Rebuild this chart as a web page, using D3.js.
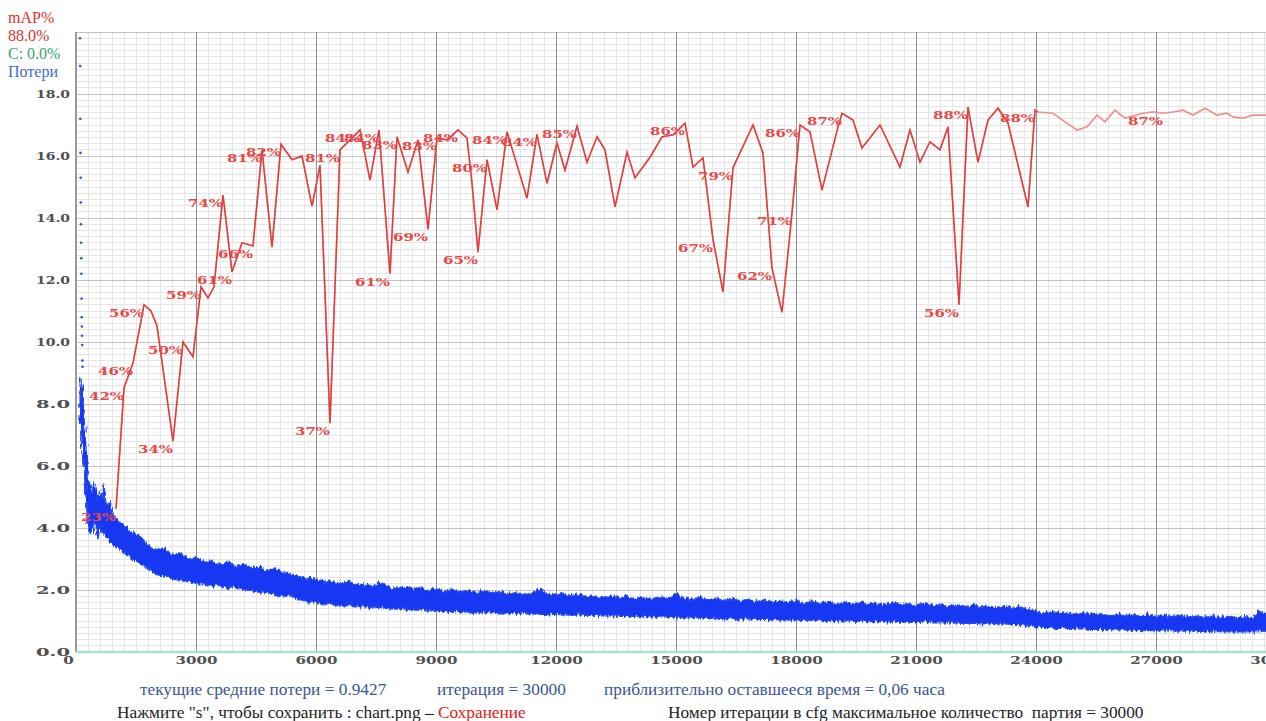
<!DOCTYPE html>
<html><head><meta charset="utf-8">
<script src="https://cdn.jsdelivr.net/npm/d3@7"></script>
<style>body{margin:0;background:#fff;overflow:hidden}</style>
</head><body><svg id="c" width="1266" height="721"></svg>
<script>
// ---------- data ----------
const xTicks = [0,3000,6000,9000,12000,15000,18000,21000,24000,27000,30000];
const yTicks = [0,2,4,6,8,10,12,14,16,18];

const mapIter = [1000,1200,1425,1700,1875,2025,2425,2675,2925,3125,
  3300,3450,3675,3900,4150,4425,4650,4900,5125,5400,
  5650,5900,6100,6350,6600,6850,7100,7350,7575,7850,
  8025,8300,8550,8800,9025,9275,9550,9775,9900,10050,
  10275,10525,10775,11275,11525,11775,12025,12225,12525,12775,
  13025,13225,13475,13775,13975,14350,14650,14925,15225,15425,
  15675,15925,16175,16425,16925,17175,17400,17650,17900,18100,
  18350,18650,19050,19150,19425,19650,20100,20600,20850,21100,
  21350,21600,21800,22075,22300,22550,22800,23050,23300,23800,
  23975,24050,24425,24725,25025,25275,25525,25725,25975,26225,
  26675,26925,27175,27425,27675,27925,28225,28525,28775,28925,
  29175,29425,29750,30000];
const mapValue = [23.1,42.6,46.6,56.0,55.0,52.6,34.0,50.0,47.6,58.9,
  57.1,58.9,73.7,61.3,66.0,65.5,81.0,65.3,81.9,79.4,
  80.0,71.9,78.5,36.9,81.0,82.6,84.2,76.1,84.2,61.0,
  83.1,77.4,82.6,68.2,82.9,82.6,84.2,82.9,75.6,64.5,
  79.4,71.3,83.9,73.2,83.5,75.6,82.1,77.7,84.8,79.0,
  83.1,81.0,71.8,80.6,76.5,79.8,83.1,83.4,85.3,78.2,
  79.7,66.5,58.1,78.1,85.0,80.5,61.9,54.8,70.8,85.0,
  83.9,74.5,84.7,86.9,85.8,81.3,85.0,78.2,84.2,79.0,
  82.3,81.0,84.7,56.0,87.9,79.0,85.8,87.7,85.3,71.8,
  87.4,87.1,86.9,85.5,84.2,84.7,86.6,85.5,87.4,86.1,
  86.9,87.1,86.9,87.1,87.4,86.6,87.7,86.6,86.9,86.3,
  86.1,86.6,86.6,86.9];
const mapLabelIdx = [0,1,2,3,6,7,9,12,13,15,16,18,23,24,26,28,29,30,33,34,36,39,40,42,44,48,58,61,63,66,68,69,73,83,84,90,102];
const mapLabelText = ["23%","42%","46%","56%","34%","50%","59%","74%","61%","66%","81%","82%","37%","81%","84%","84%","61%","83%","69%","83%","84%","65%","80%","84%","84%","85%","86%","67%","79%","62%","71%","86%","87%","56%","88%","88%","87%"];

const earlyLossIter = [100,104,108,112,116,120,124,128,132,136,140,144,148,152,156,160,164];
const earlyLoss = [19.8,18.9,17.2,16.1,15.3,14.5,13.8,13.2,12.7,12.2,11.4,10.8,10.5,10.2,9.9,9.4,9.2];

const lossIter = [100,150,200,250,300,350,400,450,500,550,600,650,700,750,800,850,900,950,
  1000,1200,1400,1600,1800,2000,2200,2400,2600,2800,3000,3200,3400,3600,3800,4000,4200,4400,4600,4800,
  5000,5200,5400,5600,5800,6000,6200,6400,6600,6800,7000,7200,7400,7600,7800,8000,8200,8400,8600,8800,
  9000,9200,9400,9600,9800,10000,10200,10400,10600,10800,11000,11200,11400,11600,11800,12000,12200,12400,12600,12800,
  13000,13200,13400,13600,13800,14000,14200,14400,14600,14800,15000,15200,15400,15600,15800,16000,16200,16400,16600,16800,
  17000,17200,17400,17600,17800,18000,18200,18400,18600,18800,19000,19200,19400,19600,19800,20000,20200,20400,20600,20800,
  21000,21200,21400,21600,21800,22000,22200,22400,22600,22800,23000,23200,23400,23600,23800,24000,24200,24400,24600,24800,
  25000,25200,25400,25600,25800,26000,26200,26400,26600,26800,27000,27200,27400,27600,27800,28000,28200,28400,28600,28800,
  29000,29200,29400,29600,29800,30000];
const lossHigh = [8.9,8.6,7.6,6.6,5.6,5.4,5.1,5.5,5.3,4.9,5.2,5.0,5.4,4.8,4.7,4.9,4.5,4.4,
  4.3,4.1,3.85,3.75,3.45,3.3,3.35,3.1,3.2,3.0,3.05,2.9,2.95,2.85,2.9,2.75,2.85,2.7,2.75,2.62,
  2.68,2.55,2.5,2.42,2.38,2.35,2.25,2.3,2.2,2.28,2.15,2.2,2.12,2.25,2.1,2.05,2.12,2.02,2.08,1.98,
  2.04,1.95,2.02,1.94,2.0,1.92,1.98,1.9,1.95,1.86,1.92,1.85,1.9,2.02,1.88,1.84,1.9,1.8,1.86,1.78,
  1.84,1.76,1.82,1.74,1.8,1.72,1.78,1.72,1.78,1.74,1.88,1.74,1.7,1.76,1.68,1.74,1.66,1.72,1.64,1.7,
  1.63,1.68,1.62,1.66,1.6,1.67,1.6,1.65,1.58,1.63,1.56,1.62,1.55,1.6,1.54,1.58,1.52,1.6,1.52,1.56,
  1.5,1.57,1.49,1.53,1.47,1.52,1.46,1.5,1.44,1.49,1.43,1.47,1.42,1.45,1.38,1.32,1.27,1.3,1.24,1.28,
  1.22,1.26,1.2,1.24,1.18,1.23,1.17,1.21,1.16,1.2,1.15,1.19,1.14,1.18,1.13,1.17,1.12,1.16,1.11,1.15,
  1.1,1.14,1.1,1.32,1.18,1.15];
const lossLow = [7.6,6.9,6.0,5.0,4.0,3.8,3.9,4.2,4.0,3.6,4.1,3.9,3.8,3.7,3.7,3.5,3.5,3.4,
  3.4,3.2,3.0,2.85,2.7,2.5,2.45,2.4,2.3,2.3,2.2,2.2,2.12,2.15,2.05,2.08,2.0,1.98,1.9,1.92,
  1.82,1.8,1.78,1.68,1.62,1.6,1.52,1.55,1.48,1.5,1.45,1.47,1.42,1.44,1.4,1.38,1.4,1.35,1.36,1.32,
  1.34,1.3,1.32,1.28,1.3,1.27,1.28,1.25,1.27,1.24,1.25,1.22,1.24,1.22,1.2,1.22,1.2,1.19,1.2,1.17,
  1.19,1.16,1.17,1.15,1.16,1.14,1.15,1.13,1.14,1.12,1.13,1.1,1.12,1.1,1.09,1.1,1.07,1.08,1.06,1.07,
  1.05,1.06,1.04,1.05,1.03,1.04,1.02,1.03,1.01,1.02,1.0,1.01,0.99,1.0,0.98,0.99,0.97,0.98,0.96,0.97,
  0.95,0.96,0.94,0.95,0.93,0.94,0.92,0.93,0.91,0.92,0.9,0.91,0.89,0.88,0.86,0.82,0.8,0.78,0.76,0.77,
  0.75,0.74,0.73,0.73,0.72,0.71,0.71,0.7,0.7,0.69,0.69,0.68,0.68,0.67,0.67,0.67,0.66,0.66,0.66,0.65,
  0.65,0.65,0.65,0.66,0.68,0.7];

const cIter = [0,30000];
const cValue = [0,0];

const legendLines = ["mAP%","88.0%","C: 0.0%","Потери"];
const legendColors = ["#dc2e2e","#dc2e2e","#34a86c","#3c6cd0"];

// ---------- drawing ----------
const svg = d3.select("#c");
const defs = svg.append("defs");
const filt = defs.append("filter").attr("id","rough")
  .attr("x","-1%").attr("y","-30%").attr("width","102%").attr("height","160%");
filt.append("feTurbulence").attr("type","fractalNoise").attr("baseFrequency","0.45 0.12")
  .attr("numOctaves",2).attr("seed",4).attr("result","n");
filt.append("feDisplacementMap").attr("in","SourceGraphic").attr("in2","n").attr("scale",7)
  .attr("xChannelSelector","R").attr("yChannelSelector","G");

svg.append("rect").attr("width",1266).attr("height",721).attr("fill","#fff");

const x = d3.scaleLinear().domain([0,30000]).range([76,1276]);
const y = d3.scaleLinear().domain([0,20]).range([652,32]);
const yMap = d3.scaleLinear().domain([0,100]).range([652,32]);

const g = svg.append("g");
const minorX = d3.range(0,30001,300), minorY = d3.range(0,20.001,0.2);
g.selectAll(".mx").data(minorX).join("line")
  .attr("x1",d=>x(d)).attr("x2",d=>x(d)).attr("y1",y(20)).attr("y2",y(0))
  .attr("stroke","#e6e6e6").attr("stroke-width",1).attr("shape-rendering","crispEdges");
g.selectAll(".my").data(minorY).join("line")
  .attr("x1",x(0)).attr("x2",1266).attr("y1",d=>y(d)).attr("y2",d=>y(d))
  .attr("stroke","#e6e6e6").attr("stroke-width",1).attr("shape-rendering","crispEdges");
g.selectAll(".My").data(yTicks.concat([20])).join("line")
  .attr("x1",x(0)).attr("x2",1266).attr("y1",d=>y(d)).attr("y2",d=>y(d))
  .attr("stroke","#c4c4c4").attr("stroke-width",1).attr("shape-rendering","crispEdges");
g.selectAll(".Mx").data(xTicks.slice(1)).join("line")
  .attr("x1",d=>x(d)).attr("x2",d=>x(d)).attr("y1",y(20)).attr("y2",y(0))
  .attr("stroke","#8f8f8f").attr("stroke-width",1).attr("shape-rendering","crispEdges");

g.append("line").attr("x1",x(0)).attr("x2",x(0)).attr("y1",y(20)).attr("y2",y(0))
  .attr("stroke","#9a9a9a").attr("stroke-width",2);

g.append("path").datum(cIter.map((d,i)=>[d,cValue[i]]))
  .attr("d",d3.line().x(d=>x(d[0])).y(d=>y(d[1])))
  .attr("stroke","#a6e3d2").attr("stroke-width",2.5).attr("fill","none");

// loss band
const lossData = lossIter.map((d,i)=>({it:d,hi:lossHigh[i],lo:lossLow[i]}));
g.append("path").datum(lossData)
  .attr("d",d3.area().x(d=>x(d.it)).y0(d=>y(d.lo)).y1(d=>y(d.hi)))
  .attr("fill","#1538f2").attr("stroke","#2a4ef4").attr("stroke-width",1.2).attr("stroke-linejoin","round")
  .attr("filter","url(#rough)");
g.selectAll(".el").data(earlyLossIter.map((d,i)=>[d,earlyLoss[i]])).join("circle")
  .attr("cx",d=>x(d[0])).attr("cy",d=>y(d[1])).attr("r",1.3).attr("fill","#3050e0");

// mAP line
const mapData = mapIter.map((d,i)=>[d,mapValue[i]]);
const mline = d3.line().x(d=>x(d[0])).y(d=>yMap(d[1]));
g.append("path").datum(mapData).attr("d",mline)
  .attr("fill","none").attr("stroke","#ee9090").attr("stroke-width",1.7);
g.append("path").datum(mapData.slice(0,92)).attr("d",mline)
  .attr("fill","none").attr("stroke","#e03c3c").attr("stroke-width",1.4);

g.selectAll(".ml").data(mapLabelIdx).join("text")
  .attr("x",d=>x(mapIter[d])).attr("y",d=>yMap(mapValue[d])+12)
  .attr("text-anchor","end").attr("font-family","DejaVu Serif").attr("font-weight","bold")
  .attr("font-size",11).attr("fill","#e84848")
  .attr("textLength",35).attr("lengthAdjust","spacingAndGlyphs")
  .text((d,i)=>mapLabelText[i]);

// axes
const fmtY = d3.format(".1f");
const ay = svg.append("g").attr("transform",`translate(${x(0)},0)`)
  .call(d3.axisLeft(y).tickValues(yTicks).tickSize(0).tickPadding(6).tickFormat(fmtY));
ay.select(".domain").remove();
ay.selectAll("text").attr("font-family","DejaVu Serif").attr("font-weight","bold").attr("font-size",11)
  .attr("fill","#505050").attr("textLength",34).attr("lengthAdjust","spacingAndGlyphs");

const ax = svg.append("g").attr("transform",`translate(0,${y(0)})`)
  .call(d3.axisBottom(x).tickValues(xTicks).tickSize(0).tickPadding(4).tickFormat(d3.format("d")));
ax.select(".domain").remove();
ax.selectAll("text").attr("font-family","DejaVu Serif").attr("font-weight","bold").attr("font-size",11)
  .attr("fill","#505050").attr("textLength",d=>String(d).length*10.5).attr("lengthAdjust","spacingAndGlyphs")
  .attr("dx",d=>d===0?-8:0);

// legend
svg.selectAll(".lg").data(legendLines).join("text")
  .attr("x",8).attr("y",(d,i)=>[23,41,59,77][i])
  .attr("font-family","Liberation Serif").attr("font-size",16)
  .attr("fill",(d,i)=>legendColors[i]).text(d=>d);

// bottom texts
const f = "Liberation Serif";
const b1 = svg.append("g").attr("font-family",f).attr("font-size",17.3).attr("fill","#3a5692");
b1.append("text").attr("x",140).attr("y",695).text("текущие средние потери = 0.9427");
b1.append("text").attr("x",437).attr("y",695).text("итерация = 30000");
b1.append("text").attr("x",604).attr("y",695).text("приблизительно оставшееся время = 0,06 часа");
const b2 = svg.append("g").attr("font-family",f).attr("font-size",17.3).attr("fill","#1e1e1e");
const t2 = b2.append("text").attr("x",117).attr("y",718);
t2.append("tspan").text("Нажмите \"s\", чтобы сохранить : chart.png – ");
t2.append("tspan").attr("fill","#e02020").text("Сохранение");
b2.append("text").attr("x",668).attr("y",718).style("white-space","pre")
  .text("Номер итерации в cfg максимальное количество  партия = 30000");
</script></body></html>
